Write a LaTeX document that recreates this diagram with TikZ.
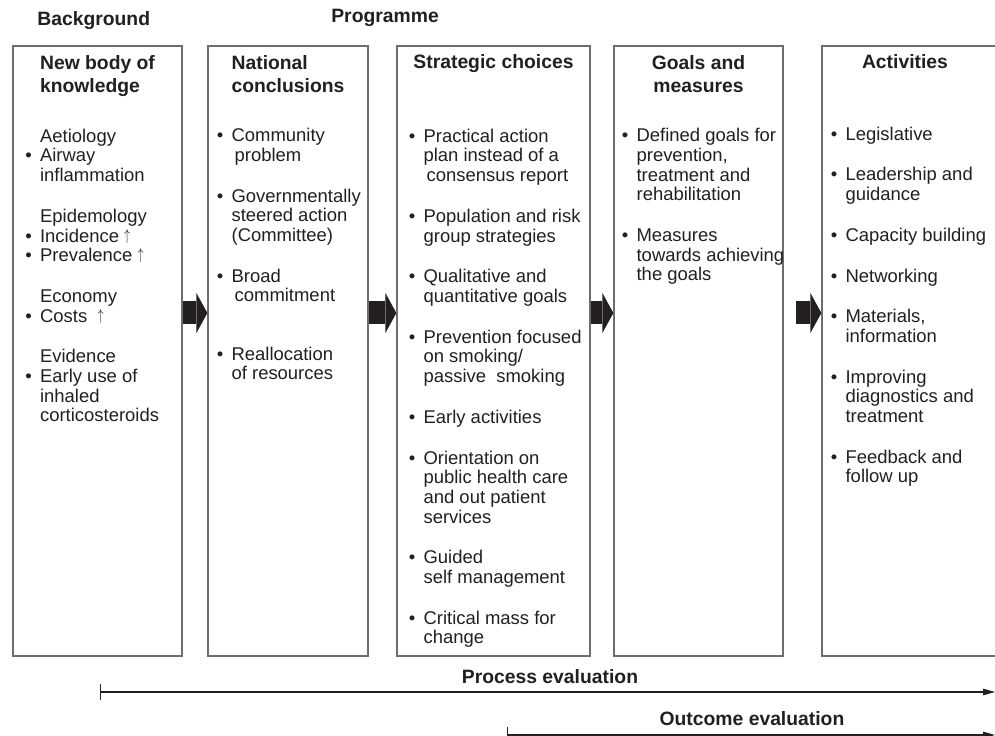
\documentclass[tikz,border=0pt]{standalone}
\usepackage{fontspec}
\setmainfont{Liberation Sans}
\usetikzlibrary{arrows.meta}

\definecolor{ink}{HTML}{231F20}
\definecolor{rulegray}{HTML}{6D6E71}

\newcommand{\bul}{\textbullet\hspace{.45em}}
\newcommand{\ind}{\hphantom{\textbullet\hspace{.45em}}}
\newcommand{\up}{\ \raisebox{.2ex}{\scalebox{.75}[1]{\small$\uparrow$}}}

\tikzset{
    col/.style = {draw = rulegray, line width = .7pt, minimum height = 12.2cm, inner sep = 0pt},
    head/.style = {font = \fontsize{11}{13.6}\selectfont\bfseries, text = ink, inner sep = 0pt},
    body/.style = {font = \fontsize{10.5}{11.2}\selectfont, text = ink, inner sep = 0pt, align = left, anchor = base west},
    block/.style = {line width = .46cm, ink, -{Triangle[length = .22cm, width = .8cm, line width = 0pt]}},
    span/.style = {line width = .6pt, ink, {Bar[width = .32cm]}-{Triangle[length = .24cm, width = .13cm]}}
}

\begin{document}
\begin{tikzpicture}[x = .02cm, y = -.02cm]
    \useasboundingbox (0, 0) rectangle (995, 736);

    \node [head, anchor = base west] (bg) at (37, 26) {Background};
    \node [head, anchor = base west] (pg) at (331, 23) {Programme};

    % the five columns
    \node [col, minimum width = 3.38cm] (b1) at (97.5, 351) {};
    \node [col, minimum width = 3.2cm]  (b2) at (288, 351) {};
    \node [col, minimum width = 3.86cm] (b3) at (493.5, 351) {};
    \node [col, minimum width = 3.38cm] (b4) at (698.5, 351) {};
    \node [col, minimum width = 3.76cm] (b5) at (916, 351) {};

    % base of a node with several lines = its last line
    \node [head, align = left, anchor = base] (t1) at (97.5, 93) {New body of\\knowledge};
    \node [head, align = left, anchor = base] (t2) at (288, 93) {National\\conclusions};
    \node [head, anchor = base] (t3) at (493.5, 69) {Strategic choices};
    \node [head, align = center, anchor = base] (t4) at (698.5, 93) {Goals and\\measures};
    \node [head, anchor = base] (t5) at (905, 69) {Activities};

    \node [body] (l1) at (25, 422) {%
        \ind Aetiology\\
        \bul Airway\\
        \ind inflammation\\[12pt]
        \ind Epidemology\\
        \bul Incidence\up\\
        \bul Prevalence\up\\[12pt]
        \ind Economy\\
        \bul Costs \up\\[12pt]
        \ind Evidence\\
        \bul Early use of\\
        \ind inhaled\\
        \ind corticosteroids};

    \node [body] (l2) at (216.5, 380) {%
        \bul Community\\
        \ind\,problem\\[12pt]
        \bul Governmentally\\
        \ind steered action\\
        \ind (Committee)\\[12pt]
        \bul Broad\\
        \ind\,commitment\\[22pt]
        \bul Reallocation\\
        \ind of resources};

    \node [body] (l3) at (408.5, 644) {%
        \bul Practical action\\
        \ind plan instead of a\\
        \ind\,consensus report\\[12pt]
        \bul Population and risk\\
        \ind group strategies\\[12pt]
        \bul Qualitative and\\
        \ind quantitative goals\\[12pt]
        \bul Prevention focused\\
        \ind on smoking/\\
        \ind passive\ \ smoking\\[12pt]
        \bul Early activities\\[12pt]
        \bul Orientation on\\
        \ind public health care\\
        \ind and out patient\\
        \ind services\\[12pt]
        \bul Guided\\
        \ind self management\\[12pt]
        \bul Critical mass for\\
        \ind change};

    \node [body] (l4) at (621.5, 281) {%
        \bul Defined goals for\\
        \ind prevention,\\
        \ind treatment and\\
        \ind rehabilitation\\[12pt]
        \bul Measures\\
        \ind towards achieving\\
        \ind the goals};

    \node [body] (l5) at (830.5, 483) {%
        \bul Legislative\\[12pt]
        \bul Leadership and\\
        \ind guidance\\[12pt]
        \bul Capacity building\\[12pt]
        \bul Networking\\[12pt]
        \bul Materials,\\
        \ind information\\[12pt]
        \bul Improving\\
        \ind diagnostics and\\
        \ind treatment\\[12pt]
        \bul Feedback and\\
        \ind follow up};

    \coordinate (mid) at (0, 313);
    \draw [block] (b1.east |- mid)  --  (b2.west |- mid);
    \draw [block] (b2.east |- mid)  --  (b3.west |- mid);
    \draw [block] (b3.east |- mid)  --  (b4.west |- mid);
    \draw [block] ([xshift = .24cm] b4.east |- mid)  --  (b5.west |- mid);

    % evaluation spans
    \coordinate (p0) at (100, 692);
    \coordinate (p1) at (995, 692);
    \coordinate (o0) at (507, 735);
    \coordinate (o1) at (995, 735);
    \draw [span] (p0)  --  (p1);
    \draw [span] (o0)  --  (o1);
    \node [head] (pe) at (550, 677) {Process evaluation};
    \node [head] (oe) at (752, 719) {Outcome evaluation};

\end{tikzpicture}
\end{document}
